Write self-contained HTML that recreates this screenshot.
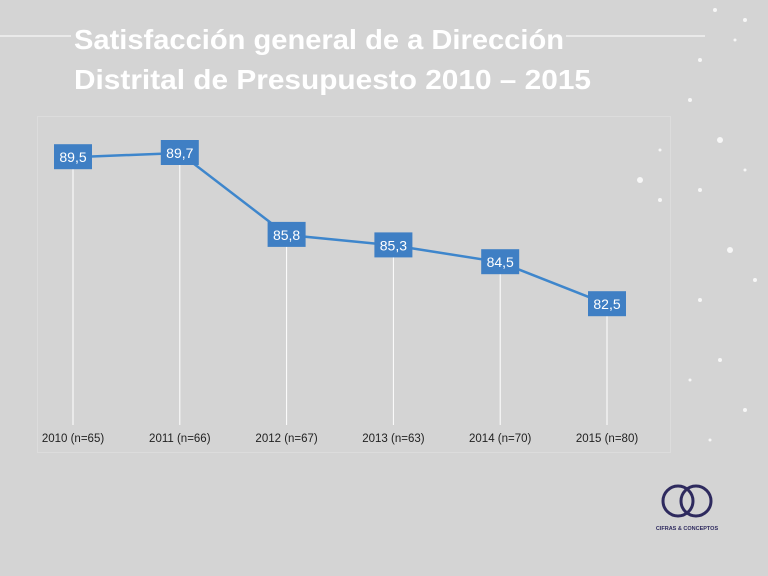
<!DOCTYPE html>
<html><head><meta charset="utf-8"><style>
html,body{margin:0;padding:0;background:#d4d4d4;}
svg{display:block;font-family:"Liberation Sans",sans-serif;}
</style></head><body>
<svg id="c" width="768" height="576" viewBox="0 0 768 576">
<rect x="0" y="0" width="768" height="576" fill="#d4d4d4"/>
<g>
<line x1="0" y1="36" x2="71" y2="36" stroke="#fff" stroke-width="1"/>
<line x1="566" y1="36" x2="705" y2="36" stroke="#fff" stroke-width="1"/>
</g>
<text x="74" y="49" fill="#fff" font-size="28" font-weight="bold" textLength="490" lengthAdjust="spacingAndGlyphs">Satisfacción general de a Dirección</text>
<text x="74" y="89" fill="#fff" font-size="28" font-weight="bold" textLength="517" lengthAdjust="spacingAndGlyphs">Distrital de Presupuesto 2010 – 2015</text>
<rect x="37.5" y="116.5" width="633" height="336" fill="none" stroke="#dcdcdc" stroke-width="1"/>
<g id="dots" fill="#fff"></g>
<g id="drops"></g>
<g id="series"></g>
<g id="xlabels"></g>
<g>
<circle cx="678" cy="501" r="15" fill="none" stroke="#2e2a5e" stroke-width="3"/>
<circle cx="696" cy="501" r="15" fill="none" stroke="#2e2a5e" stroke-width="3"/>
<text x="687" y="530" font-size="5.5" fill="#2e2a5e" text-anchor="middle" font-weight="bold">CIFRAS &amp; CONCEPTOS</text>
</g>
</svg>
<script>
const categories=["2010 (n=65)","2011 (n=66)","2012 (n=67)","2013 (n=63)","2014 (n=70)","2015 (n=80)"];
const values=[89.5,89.7,85.8,85.3,84.5,82.5];
const valueLabels=["89,5","89,7","85,8","85,3","84,5","82,5"];
const NS="http://www.w3.org/2000/svg";
function xPos(i){return 73+i*106.8;}
function yPos(v){return 153+(89.7-v)*21;}
function mk(t,a,p){const e=document.createElementNS(NS,t);for(const k in a)e.setAttribute(k,a[k]);p.appendChild(e);return e;}
const drops=document.getElementById('drops'),ser=document.getElementById('series'),xl=document.getElementById('xlabels');
values.forEach((v,i)=>{const l=mk('line',{x1:xPos(i),y1:yPos(v),x2:xPos(i),y2:425,stroke:'#fff','stroke-width':1},drops);

});
const pts=values.map((v,i)=>xPos(i)+','+yPos(v)).join(' ');
const pl=mk('polyline',{points:pts,fill:'none',stroke:'#3e86cc','stroke-width':2.5},ser);


values.forEach((v,i)=>{const g=mk('g',{},ser);


mk('rect',{x:xPos(i)-19,y:yPos(v)-13,width:38,height:25,fill:'#3f7fc4'},g);
const t=mk('text',{x:xPos(i),y:yPos(v)+5,fill:'#fff','font-size':14,'text-anchor':'middle'},g);t.textContent=valueLabels[i];});
categories.forEach((c,i)=>{const t=mk('text',{x:xPos(i),y:442,fill:'#222','font-size':11.5,'text-anchor':'middle'},xl);


t.textContent=c;});
const dots=document.getElementById('dots');
[[715,10,2],[745,20,2],[700,60,2],[735,40,1.5],[690,100,2],[720,140,3],[700,190,2],[745,170,1.5],[660,150,1.5],[730,250,3],[700,300,2],[755,280,2],[720,360,2],[690,380,1.5],[745,410,2],[660,200,2],[710,440,1.5],[640,180,3]].forEach(d=>{mk('circle',{cx:d[0],cy:d[1],r:d[2],opacity:0.8},dots);});
</script>
</body></html>
